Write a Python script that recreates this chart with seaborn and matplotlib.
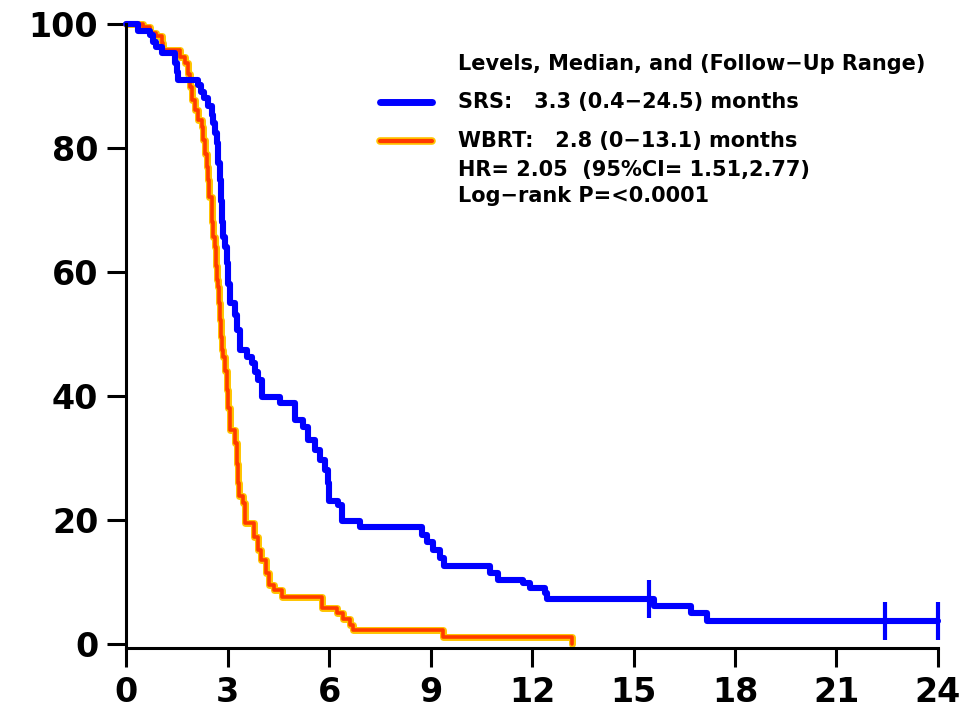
import matplotlib
matplotlib.use("Agg")
import matplotlib.pyplot as plt
import matplotlib.patheffects as pe
import pandas as pd
import seaborn as sns

# Kaplan-Meier step points (time in months, survival %)
srs_time = [0, 0.36, 0.70, 0.81, 0.90, 1.05, 1.45, 1.50, 1.55, 2.12, 2.22, 2.31,
            2.41, 2.53, 2.58, 2.63, 2.68, 2.73, 2.78, 2.80, 2.83, 2.86, 2.93,
            2.98, 3.02, 3.07, 3.22, 3.27, 3.37, 3.57, 3.71, 3.81, 3.91, 4.01,
            4.55, 4.99, 5.23, 5.38, 5.59, 5.73, 5.88, 5.97, 6.00, 6.27, 6.37,
            6.92, 8.74, 8.89, 9.06, 9.28, 9.40, 10.76, 11.00, 11.74, 11.94,
            12.38, 12.43, 15.60, 16.70, 17.16, 24.0]
srs_surv = [100, 98.8, 98.2, 97.1, 96.3, 95.3, 93.7, 92.3, 91.0, 90.2, 89.0, 88.0,
            86.7, 85.3, 84.0, 82.4, 80.8, 77.6, 74.8, 71.5, 68.0, 65.7, 64.0,
            61.4, 58.0, 55.0, 53.0, 50.6, 47.4, 46.3, 45.3, 43.9, 42.6, 39.9,
            38.8, 36.1, 35.0, 32.9, 31.3, 29.7, 28.0, 26.0, 23.0, 22.4, 19.9,
            18.8, 17.6, 16.5, 15.2, 13.8, 12.5, 11.4, 10.3, 9.8, 9.0,
            8.2, 7.2, 6.1, 5.0, 3.7, 3.7]
srs_cens_time = [15.47, 22.43, 24.0]
srs_cens_surv = [7.2, 3.7, 3.7]

wbrt_time = [0, 0.51, 0.70, 0.90, 1.05, 1.10, 1.60, 1.74, 1.84, 1.89, 1.94, 2.04,
             2.14, 2.24, 2.28, 2.33, 2.38, 2.43, 2.45, 2.53, 2.55, 2.58, 2.63,
             2.66, 2.69, 2.73, 2.75, 2.77, 2.78, 2.80, 2.83, 2.88, 2.93, 2.98,
             3.02, 3.07, 3.22, 3.27, 3.32, 3.35, 3.47, 3.52, 3.77, 3.89, 3.99,
             4.13, 4.23, 4.37, 4.62, 5.78, 6.23, 6.42, 6.62, 6.72, 9.38, 13.17]
wbrt_surv = [100, 99.5, 98.5, 98.0, 97.0, 95.8, 94.7, 93.7, 92.0, 89.9, 87.7, 86.1,
             84.5, 83.4, 81.3, 79.1, 77.0, 74.8, 72.1, 71.0, 68.0, 65.7, 64.0,
             61.0, 58.7, 57.6, 55.0, 52.8, 52.3, 49.5, 47.4, 46.3, 44.0, 41.0,
             38.0, 34.5, 32.4, 29.0, 25.9, 23.8, 22.7, 19.5, 17.3, 15.2, 13.5,
             11.4, 9.5, 8.7, 7.6, 5.8, 5.0, 4.1, 3.1, 2.2, 1.1, 0.0]

x_ticks = [0, 3, 6, 9, 12, 15, 18, 21, 24]
y_ticks = [0, 20, 40, 60, 80, 100]

header = "Levels, Median, and (Follow\u2212Up Range)"
srs_label = "SRS:   3.3 (0.4\u221224.5) months"
wbrt_label = "WBRT:   2.8 (0\u221213.1) months"
stats_lines = ["HR= 2.05  (95%CI= 1.51,2.77)", "Log\u2212rank P=<0.0001"]

srs = pd.DataFrame({"t": srs_time, "s": srs_surv})
wbrt = pd.DataFrame({"t": wbrt_time, "s": wbrt_surv})
cens = pd.DataFrame({"t": srs_cens_time, "s": srs_cens_surv})

sns.set_style("ticks")
plt.rcParams["font.family"] = ["DejaVu Sans"]
plt.rcParams["text.color"] = "black"
plt.rcParams["xtick.color"] = "black"
plt.rcParams["ytick.color"] = "black"

BLUE = "#0000FF"
ORANGE = "#FF3A00"
HALO = "#FFC400"
orange_fx = [pe.Stroke(linewidth=5.0, foreground=HALO), pe.Normal()]

fig = plt.figure(figsize=(9.68, 7.16), dpi=100)
ax = fig.add_axes([0.1302, 0.095, 0.8388, 0.8715])

sns.lineplot(data=wbrt, x="t", y="s", ax=ax, color=ORANGE, linewidth=2.6,
             drawstyle="steps-post", estimator=None, sort=False,
             path_effects=orange_fx, clip_on=False, legend=False)
sns.lineplot(data=srs, x="t", y="s", ax=ax, color=BLUE, linewidth=4.4,
             drawstyle="steps-post", estimator=None, sort=False,
             clip_on=False, legend=False)
sns.scatterplot(data=cens, x="t", y="s", ax=ax, marker="|", s=760,
                color=BLUE, linewidth=3, clip_on=False, legend=False, zorder=5)

ax.set_xlim(0, 24)
ax.set_ylim(-0.65, 100)
ax.set_xticks(x_ticks)
ax.set_yticks(y_ticks)
ax.set_xlabel("")
ax.set_ylabel("")

for side in ["top", "right"]:
    ax.spines[side].set_visible(False)
for side in ["left", "bottom"]:
    ax.spines[side].set_linewidth(2.2)
    ax.spines[side].set_color("black")

ax.tick_params(axis="both", which="major", direction="out", length=14,
               width=2.2, color="black", labelcolor="black", labelsize=24,
               pad=6, bottom=True, left=True)
for lbl in ax.get_xticklabels() + ax.get_yticklabels():
    lbl.set_fontweight("bold")

# legend block
txt_kw = dict(fontsize=15, fontweight="bold", va="center", ha="left", color="black")
fig.text(0.473, 0.9106, header, **txt_kw)
fig.text(0.473, 0.8575, srs_label, **txt_kw)
fig.text(0.473, 0.803, wbrt_label, **txt_kw)
fig.text(0.473, 0.7626, stats_lines[0], **txt_kw)
fig.text(0.473, 0.7263, stats_lines[1], **txt_kw)
fig.add_artist(plt.Line2D([0.3926, 0.4463], [0.8575, 0.8575], color=BLUE,
                          linewidth=5, solid_capstyle="round"))
fig.add_artist(plt.Line2D([0.3926, 0.4463], [0.803, 0.803], color=ORANGE,
                          linewidth=3, solid_capstyle="round",
                          path_effects=[pe.Stroke(linewidth=5.5, foreground=HALO),
                                        pe.Normal()]))

fig.savefig("out.png", dpi=100)
